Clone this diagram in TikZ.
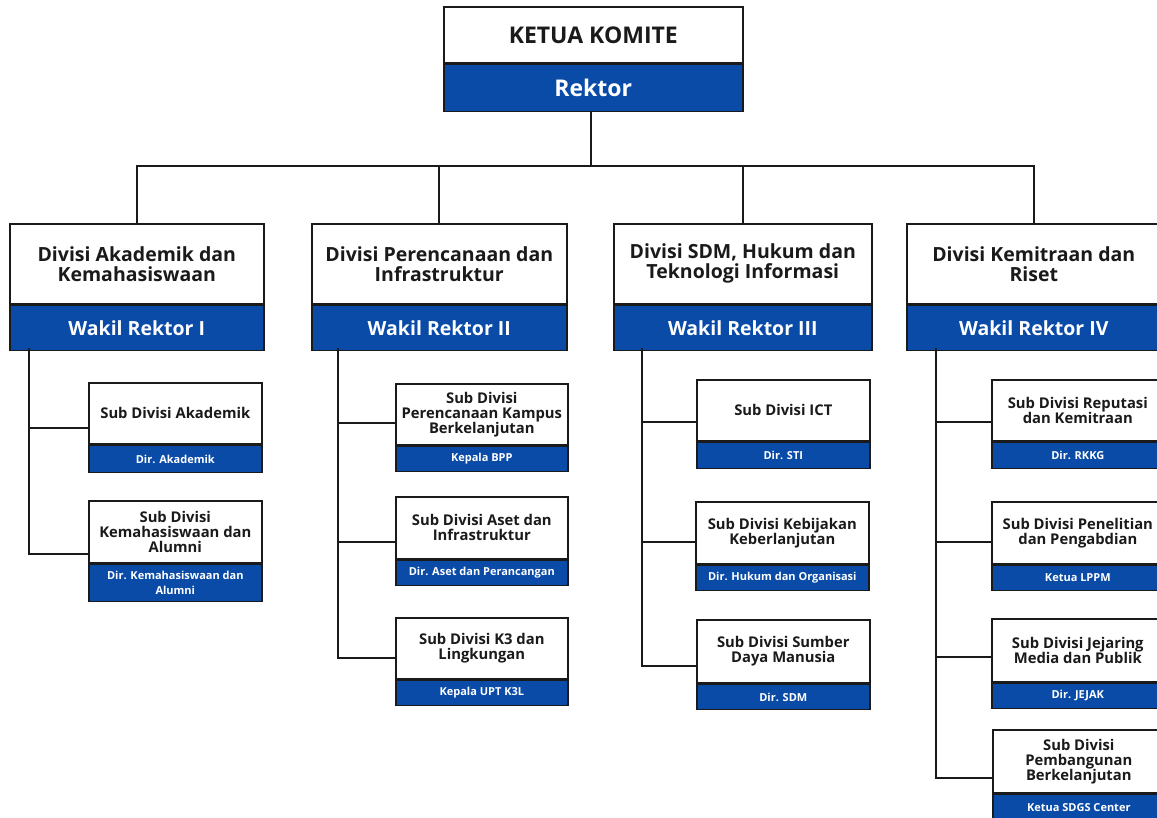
\documentclass[tikz,border=0pt]{standalone}
\usepackage{fontspec}
\setmainfont{Open Sans}
\definecolor{ublue}{HTML}{0A4BA8}
\definecolor{ink}{HTML}{1A1A1A}
\tikzset{
  box/.style={draw=ink, line width=1.6pt, inner sep=0pt, align=center, anchor=north west},
  wbox/.style={box, fill=white, text=ink},
  bbox/.style={box, fill=ublue, text=white},
  toptitle/.style={font=\bfseries\fontsize{23}{25}\selectfont},
  divtitle/.style={font=\bfseries\fontsize{19.5}{20}\selectfont},
  subtitle/.style={font=\bfseries\fontsize{14.8}{15}\selectfont},
  sublabel/.style={font=\bfseries\fontsize{11}{15.5}\selectfont},
  link/.style={draw=ink, line width=1.8pt}
}
\newcommand\divbox[8]{%
  \node[wbox, divtitle, minimum width=#4pt, minimum height=#5pt] (#1w) at (#2,#3) {#7};
  \node[bbox, divtitle, minimum width=#4pt, minimum height=#6pt] (#1b) at (#1w.south west) {#8};}
\newcommand\subbox[8]{%
  \node[wbox, subtitle, minimum width=#4pt, minimum height=#5pt] (#1w) at (#2,#3) {#7};
  \node[bbox, sublabel, minimum width=#4pt, minimum height=#6pt] (#1b) at (#1w.south west) {#8};}
\begin{document}
\begin{tikzpicture}[x=1pt,y=-1pt]
\useasboundingbox[fill=white] (0,0) rectangle (1157,817);
% top
\node[wbox, toptitle, minimum width=299pt, minimum height=56pt] (kw) at (443,6) {KETUA KOMITE};
\node[bbox, toptitle, minimum width=299pt, minimum height=47pt] (kb) at (kw.south west) {Rektor};
% divisions
\divbox{d1}{9}{223}{254}{80}{45}{Divisi Akademik dan\\Kemahasiswaan}{Wakil Rektor I}
\divbox{d2}{311}{223}{255}{80}{45}{Divisi Perencanaan dan\\Infrastruktur}{Wakil Rektor II}
\divbox{d3}{613}{223}{258}{80}{45}{Divisi SDM, Hukum dan\\Teknologi Informasi}{Wakil Rektor III}
\divbox{d4}{906}{223}{254}{80}{45}{Divisi Kemitraan dan\\Riset}{Wakil Rektor IV}
% sub divisions col 1
\subbox{s11}{88}{382}{173}{61}{27}{Sub Divisi Akademik}{Dir. Akademik}
\subbox{s12}{88}{500}{173}{62}{37}{Sub Divisi\\Kemahasiswaan dan\\Alumni}{Dir. Kemahasiswaan dan\\Alumni}
% col 2
\subbox{s21}{395}{383}{172}{61}{25}{Sub Divisi\\Perencanaan Kampus\\Berkelanjutan}{Kepala BPP}
\subbox{s22}{395}{496}{172}{62}{25}{Sub Divisi Aset dan\\Infrastruktur}{Dir. Aset dan Perancangan}
\subbox{s23}{395}{617}{172}{61}{25}{Sub Divisi K3 dan\\Lingkungan}{Kepala UPT K3L}
% col 3
\subbox{s31}{696}{379}{173}{61}{26}{Sub Divisi ICT}{Dir. STI}
\subbox{s32}{695}{501}{173}{62}{25}{Sub Divisi Kebijakan\\Keberlanjutan}{Dir. Hukum dan Organisasi}
\subbox{s33}{696}{619}{173}{63}{25}{Sub Divisi Sumber\\Daya Manusia}{Dir. SDM}
% col 4
\subbox{s41}{991}{379}{172}{61}{26}{Sub Divisi Reputasi\\dan Kemitraan}{Dir. RKKG}
\subbox{s42}{991}{501}{172}{62}{25}{Sub Divisi Penelitian\\dan Pengabdian}{Ketua LPPM}
\subbox{s43}{991}{618}{172}{63}{25}{Sub Divisi Jejaring\\Media dan Publik}{Dir. JEJAK}
\subbox{s44}{992}{729}{172}{63}{27}{Sub Divisi\\Pembangunan\\Berkelanjutan}{Ketua SDGS Center}
% top connectors
\coordinate (hub) at (591,166);
\draw[link] (kb.south -| hub) -- (hub);
\draw[link] (d1w.north) |- (hub);
\draw[link] (d2w.north) |- (hub);
\draw[link] (d3w.north) |- (hub);
\draw[link] (d4w.north) |- (hub);
% trunks
\coordinate (t1) at (29,348);
\coordinate (t2) at (338,348);
\coordinate (t3) at (642,348);
\coordinate (t4) at (936,348);
\coordinate (c11) at (88,428);
\coordinate (c12) at (88,554);
\coordinate (c21) at (395,423);
\coordinate (c22) at (395,542);
\coordinate (c23) at (395,658);
\coordinate (c31) at (696,422);
\coordinate (c32) at (695,542);
\coordinate (c33) at (696,666);
\coordinate (c41) at (991,422);
\coordinate (c42) at (991,542);
\coordinate (c43) at (991,657);
\coordinate (c44) at (992,778);
\draw[link] (t1) |- (c12); \draw[link] (t1 |- c11) -- (c11);
\draw[link] (t2) |- (c23); \draw[link] (t2 |- c21) -- (c21); \draw[link] (t2 |- c22) -- (c22);
\draw[link] (t3) |- (c33); \draw[link] (t3 |- c31) -- (c31); \draw[link] (t3 |- c32) -- (c32);
\draw[link] (t4) |- (c44); \draw[link] (t4 |- c41) -- (c41); \draw[link] (t4 |- c42) -- (c42); \draw[link] (t4 |- c43) -- (c43);
\end{tikzpicture}
\end{document}
